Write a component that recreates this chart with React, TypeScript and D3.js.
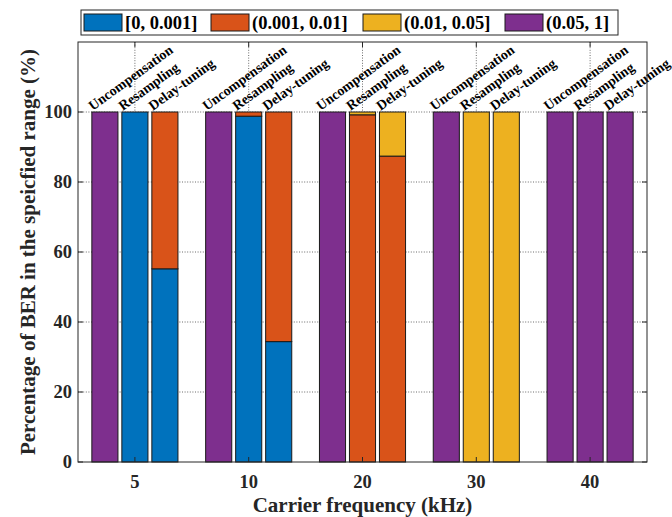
import * as d3 from "d3";
import { useEffect, useRef } from "react";

// carrier frequencies (kHz) and compensation methods
const categories = ["5", "10", "20", "30", "40"];
const methods = ["Uncompensation", "Resampling", "Delay-tuning"];
const binLabels = ["[0, 0.001]", "(0.001, 0.01]", "(0.01, 0.05]", "(0.05, 1]"];
const binColors = ["#0072BD", "#D95319", "#EDB120", "#7E2F8E"];

// percentage per bar, ordered [5: U, R, D, 10: U, R, D, ...]
const binLow = [0, 100, 55.2, 0, 98.8, 34.4, 0, 0, 0, 0, 0, 0, 0, 0, 0];
const binMid = [0, 0, 44.8, 0, 1.2, 65.6, 0, 99.2, 87.4, 0, 0, 0, 0, 0, 0];
const binHigh = [0, 0, 0, 0, 0, 0, 0, 0.8, 12.6, 0, 100, 100, 0, 0, 0];
const binWorst = [100, 0, 0, 100, 0, 0, 100, 0, 0, 100, 0, 0, 100, 100, 100];

const yTicks = [0, 20, 40, 60, 80, 100];

const W = 672;
const H = 517;
const m = { left: 78, right: 647, top: 42, bottom: 462 };
const font = "'Liberation Serif', 'Times New Roman', serif";
const axisColor = "#262626";

const App = () => {
  const svgRef = useRef<SVGSVGElement>(null);

  useEffect(() => {
    const svg = d3.select(svgRef.current);
    svg.selectAll("*").remove();

    const rows = categories.flatMap((c, ci) =>
      methods.map((mt, mi) => {
        const i = ci * 3 + mi;
        return { cat: c, method: mt, b0: binLow[i], b1: binMid[i], b2: binHigh[i], b3: binWorst[i] };
      })
    );
    const keys = ["b0", "b1", "b2", "b3"];
    const series = d3.stack<any>().keys(keys)(rows);

    const x = d3.scaleBand().domain(categories).range([m.left, m.right]).padding(0);
    const xm = d3.scaleBand().domain(methods).range([-45, 45]).paddingInner(0.13).paddingOuter(0.065);
    const y = d3.scaleLinear().domain([0, 120]).range([m.bottom, m.top]);
    const cx = (c: string) => (x(c) as number) + x.bandwidth() / 2;
    const barX = (d: any) => cx(d.data.cat) + (xm(d.data.method) as number);

    // grid
    const grid = svg.append("g").attr("stroke", "#444").attr("stroke-width", 0.8).attr("stroke-dasharray", "1,1.6");
    grid.selectAll(".gy").data(yTicks.slice(1)).join("line")
      .attr("x1", m.left).attr("x2", m.right).attr("y1", (d) => y(d)).attr("y2", (d) => y(d));
    grid.selectAll(".gx").data(categories).join("line")
      .attr("x1", cx).attr("x2", cx).attr("y1", m.top).attr("y2", m.bottom);

    // bars
    series.forEach((s, si) => {
      svg.append("g").attr("fill", binColors[si]).attr("stroke", "#1a1a1a").attr("stroke-width", 1)
        .selectAll("rect").data(s.filter((d: any) => d[1] - d[0] > 0)).join("rect")
        .attr("x", barX)
        .attr("width", xm.bandwidth())
        .attr("y", (d: any) => y(d[1]))
        .attr("height", (d: any) => y(d[0]) - y(d[1]));
    });

    // method labels above each bar
    svg.append("g").selectAll("text").data(rows).join("text")
      .attr("transform", (d) => {
        const px = cx(d.cat) + (xm(d.method) as number) + 1;
        return `translate(${px},${y(100) - 1}) rotate(-36)`;
      })
      .attr("font-family", font).attr("font-weight", "bold").attr("font-size", 14)
      .attr("fill", "#000")
      .text((d) => d.method);

    // box + ticks
    svg.append("rect").attr("x", m.left).attr("y", m.top)
      .attr("width", m.right - m.left).attr("height", m.bottom - m.top)
      .attr("fill", "none").attr("stroke", axisColor).attr("stroke-width", 1);
    const ticks = svg.append("g").attr("stroke", axisColor).attr("stroke-width", 1);
    yTicks.forEach((t) => {
      ticks.append("line").attr("x1", m.left).attr("x2", m.left + 5).attr("y1", y(t)).attr("y2", y(t));
      ticks.append("line").attr("x1", m.right).attr("x2", m.right - 5).attr("y1", y(t)).attr("y2", y(t));
    });
    categories.forEach((c) => {
      ticks.append("line").attr("x1", cx(c)).attr("x2", cx(c)).attr("y1", m.bottom).attr("y2", m.bottom - 5);
      ticks.append("line").attr("x1", cx(c)).attr("x2", cx(c)).attr("y1", m.top).attr("y2", m.top + 5);
    });

    // tick labels
    svg.append("g").selectAll("text").data(yTicks).join("text")
      .attr("x", 72).attr("y", (d) => y(d)).attr("dy", "0.34em")
      .attr("text-anchor", "end")
      .attr("font-family", font).attr("font-weight", "bold").attr("font-size", 18.5).attr("fill", axisColor)
      .text((d) => d);
    svg.append("g").selectAll("text").data(categories).join("text")
      .attr("x", cx).attr("y", 488)
      .attr("text-anchor", "middle")
      .attr("font-family", font).attr("font-weight", "bold").attr("font-size", 18.5).attr("fill", axisColor)
      .text((d) => d);

    // axis titles
    svg.append("text")
      .attr("x", (m.left + m.right) / 2).attr("y", 512)
      .attr("text-anchor", "middle")
      .attr("font-family", font).attr("font-weight", "bold").attr("font-size", 21).attr("fill", axisColor)
      .text("Carrier frequency (kHz)");
    svg.append("text")
      .attr("transform", `translate(35,${(m.top + m.bottom) / 2}) rotate(-90)`)
      .attr("text-anchor", "middle")
      .attr("font-family", font).attr("font-weight", "bold").attr("font-size", 21).attr("fill", axisColor)
      .text("Percentage of BER in the speicfied range (%)");

    // legend
    const legendOffsets = [0, 127, 279, 421];
    const lg = svg.append("g");
    lg.append("rect").attr("x", 81).attr("y", 10).attr("width", 537).attr("height", 25)
      .attr("fill", "#fff").attr("stroke", axisColor).attr("stroke-width", 1);
    binLabels.forEach((lab, i) => {
      const lx = 84 + legendOffsets[i];
      lg.append("rect").attr("x", lx).attr("y", 14).attr("width", 38).attr("height", 17)
        .attr("fill", binColors[i]).attr("stroke", "#1a1a1a").attr("stroke-width", 1);
      lg.append("text").attr("x", lx + 41).attr("y", 29)
        .attr("font-family", font).attr("font-weight", "bold").attr("font-size", 18.5).attr("fill", "#000")
        .text(lab);
    });
  }, []);

  return (
    <div>
      <svg ref={svgRef} width={W} height={H} style={{ position: "absolute", left: 0, top: 0, background: "#fff" }}></svg>
    </div>
  );
};

export default App;
